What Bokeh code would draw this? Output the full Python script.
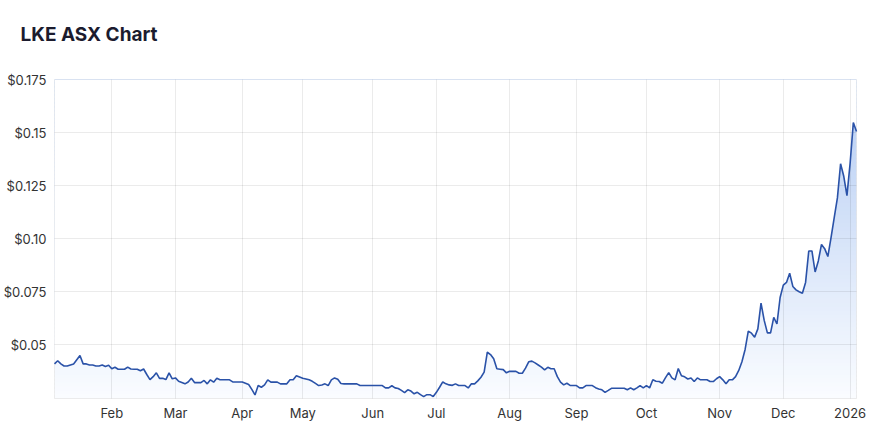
import numpy as np
from bokeh.plotting import figure
from bokeh.models import Range1d, FixedTicker, Title
from bokeh.embed import file_html
from bokeh.resources import INLINE

title_text = "LKE ASX Chart"

# daily closing price, one value per ASX trading day (Jan 2025 -> Jan 2026)
price = [
    0.041, 0.0425, 0.041, 0.040, 0.040, 0.0405, 0.041, 0.043, 0.045, 0.041,
    0.041, 0.0405, 0.0405, 0.040, 0.040, 0.0405, 0.0398, 0.0404, 0.0387, 0.0394,
    0.0385, 0.0385, 0.0385, 0.0395, 0.0386, 0.0385, 0.0385, 0.0378, 0.0386, 0.036,
    0.0336, 0.035, 0.0368, 0.0342, 0.0342, 0.0336, 0.0368, 0.034, 0.0344, 0.0328,
    0.0322, 0.0316, 0.0325, 0.0342, 0.0322, 0.0322, 0.0322, 0.0332, 0.0316, 0.0335,
    0.0324, 0.0342, 0.0335, 0.0335, 0.0335, 0.0335, 0.0325, 0.0325, 0.0325, 0.0325,
    0.0319, 0.0313, 0.029, 0.0264, 0.0308, 0.030, 0.0311, 0.0335, 0.0324, 0.0324,
    0.0324, 0.0316, 0.0316, 0.0316, 0.0335, 0.0335, 0.0354, 0.0348, 0.0342, 0.0339,
    0.0335, 0.0328, 0.0318, 0.0308, 0.0311, 0.0316, 0.0308, 0.0335, 0.0344, 0.0338,
    0.0318, 0.0316, 0.0316, 0.0316, 0.0316, 0.0316, 0.0308, 0.0308, 0.0308, 0.0308,
    0.0308, 0.0308, 0.0308, 0.0308, 0.0297, 0.0297, 0.0307, 0.0297, 0.0294, 0.0285,
    0.0275, 0.0288, 0.0282, 0.0269, 0.0276, 0.0265, 0.0256, 0.0265, 0.0265, 0.0256,
    0.0276, 0.030, 0.0325, 0.0316, 0.0311, 0.0309, 0.0316, 0.0308, 0.0308, 0.0308,
    0.0297, 0.0316, 0.0316, 0.033, 0.0347, 0.0371, 0.0465, 0.0454, 0.0434, 0.0387,
    0.0385, 0.0383, 0.0368, 0.0375, 0.0375, 0.0375, 0.0366, 0.0366, 0.039, 0.042,
    0.0423, 0.0415, 0.0405, 0.0395, 0.0382, 0.0394, 0.0387, 0.0387, 0.035, 0.0324,
    0.0311, 0.0319, 0.0309, 0.0308, 0.0308, 0.0297, 0.0297, 0.0308, 0.0308, 0.0308,
    0.0298, 0.0292, 0.0288, 0.0276, 0.0285, 0.0295, 0.0295, 0.0295, 0.0295, 0.0295,
    0.0288, 0.0297, 0.0288, 0.0297, 0.0308, 0.0297, 0.0308, 0.0297, 0.0335, 0.0328,
    0.0327, 0.0319, 0.0345, 0.0369, 0.0344, 0.0335, 0.0388, 0.0354, 0.0349, 0.0339,
    0.0344, 0.0327, 0.0344, 0.0335, 0.0335, 0.0335, 0.0327, 0.0327, 0.034, 0.035,
    0.0335, 0.0316, 0.0335, 0.0335, 0.035, 0.0379, 0.042, 0.0478, 0.0564, 0.0555,
    0.0536, 0.0575, 0.0696, 0.0615, 0.0556, 0.0556, 0.0629, 0.0598, 0.0723, 0.0781,
    0.0794, 0.0837, 0.0775, 0.0759, 0.075, 0.0743, 0.0794, 0.0942, 0.0942, 0.0843,
    0.0895, 0.0973, 0.0953, 0.0916, 0.1005, 0.1099, 0.1192, 0.1353, 0.1294, 0.1203,
    0.1356, 0.1547, 0.1505,
]

# trading-day index of first session of each month, and its label
month_tick_idx = [18, 38, 59, 78, 100, 120, 143, 164, 186, 209, 229, 250]
month_labels = ["Feb", "Mar", "Apr", "May", "Jun", "Jul", "Aug", "Sep", "Oct", "Nov", "Dec", "2026"]

y_ticks = [0.05, 0.075, 0.10, 0.125, 0.15, 0.175]
y_labels = ["$0.05", "$0.075", "$0.10", "$0.125", "$0.15", "$0.175"]
y_min, y_max = 0.0247, 0.175

x = np.arange(len(price))
x_end = len(price) - 1

p = figure(width=880, height=425, output_backend="svg", toolbar_location=None,
           x_range=Range1d(0, x_end), y_range=Range1d(y_min, y_max),
           min_border_left=30, min_border_right=24, min_border_top=79,
           min_border_bottom=27)
p.background_fill_color = "white"
p.border_fill_color = "white"
p.outline_line_color = "#e6e6e6"

# spacer between title and plot area (closest to the frame)
p.add_layout(Title(text=" ", text_font_size="1px", standoff=26), "above")

# title (outermost)
p.title.text = title_text
p.title.text_font = "Inter"
p.title.text_font_size = "19px"
p.title.text_font_style = "bold"
p.title.text_color = "#1b1b2e"
p.title.align = "left"
p.title.offset = -34
p.title.standoff = 10

# vertical gradient fill under the curve: bands, then a white mask above curve
n_bands = 80
levels = np.linspace(y_min, y_max, n_bands + 1)
c_bot = np.array([250, 252, 255])
c_top = np.array([180, 204, 243])
band_colors = []
for k in range(n_bands):
    t = (0.5 * (levels[k] + levels[k + 1]) - y_min) / (y_max - y_min)
    c = (c_bot + (c_top - c_bot) * t).round().astype(int)
    band_colors.append("#%02x%02x%02x" % tuple(c))
p.quad(left=0, right=x_end, bottom=levels[:-1], top=levels[1:] + (levels[1] - levels[0]) * 0.3,
       fill_color=band_colors, line_color=None)
p.varea(x=x, y1=price, y2=y_max, fill_color="white")

line = p.line(x, price, line_color="#2a52a8", line_width=1.6)
line.level = "overlay"

# grid
p.xgrid.ticker = FixedTicker(ticks=month_tick_idx)
p.ygrid.ticker = FixedTicker(ticks=y_ticks)
p.grid.grid_line_color = "#000000"
p.grid.grid_line_alpha = 0.08
p.grid.level = "guide"

# axes
p.xaxis.ticker = FixedTicker(ticks=month_tick_idx)
p.xaxis.major_label_overrides = {t: l for t, l in zip(month_tick_idx, month_labels)}
p.yaxis.ticker = FixedTicker(ticks=y_ticks)
p.yaxis.major_label_overrides = {t: l for t, l in zip(y_ticks, y_labels)}
for ax in (p.xaxis, p.yaxis):
    ax.axis_line_color = None
    ax.major_tick_line_color = None
    ax.minor_tick_line_color = None
    ax.major_label_text_font = "Inter"
    ax.major_label_text_font_size = "13px"
    ax.major_label_text_color = "#333333"
p.xaxis.major_label_standoff = 0
p.yaxis.major_label_standoff = 2

open("out.html", "w").write(file_html(p, INLINE))
